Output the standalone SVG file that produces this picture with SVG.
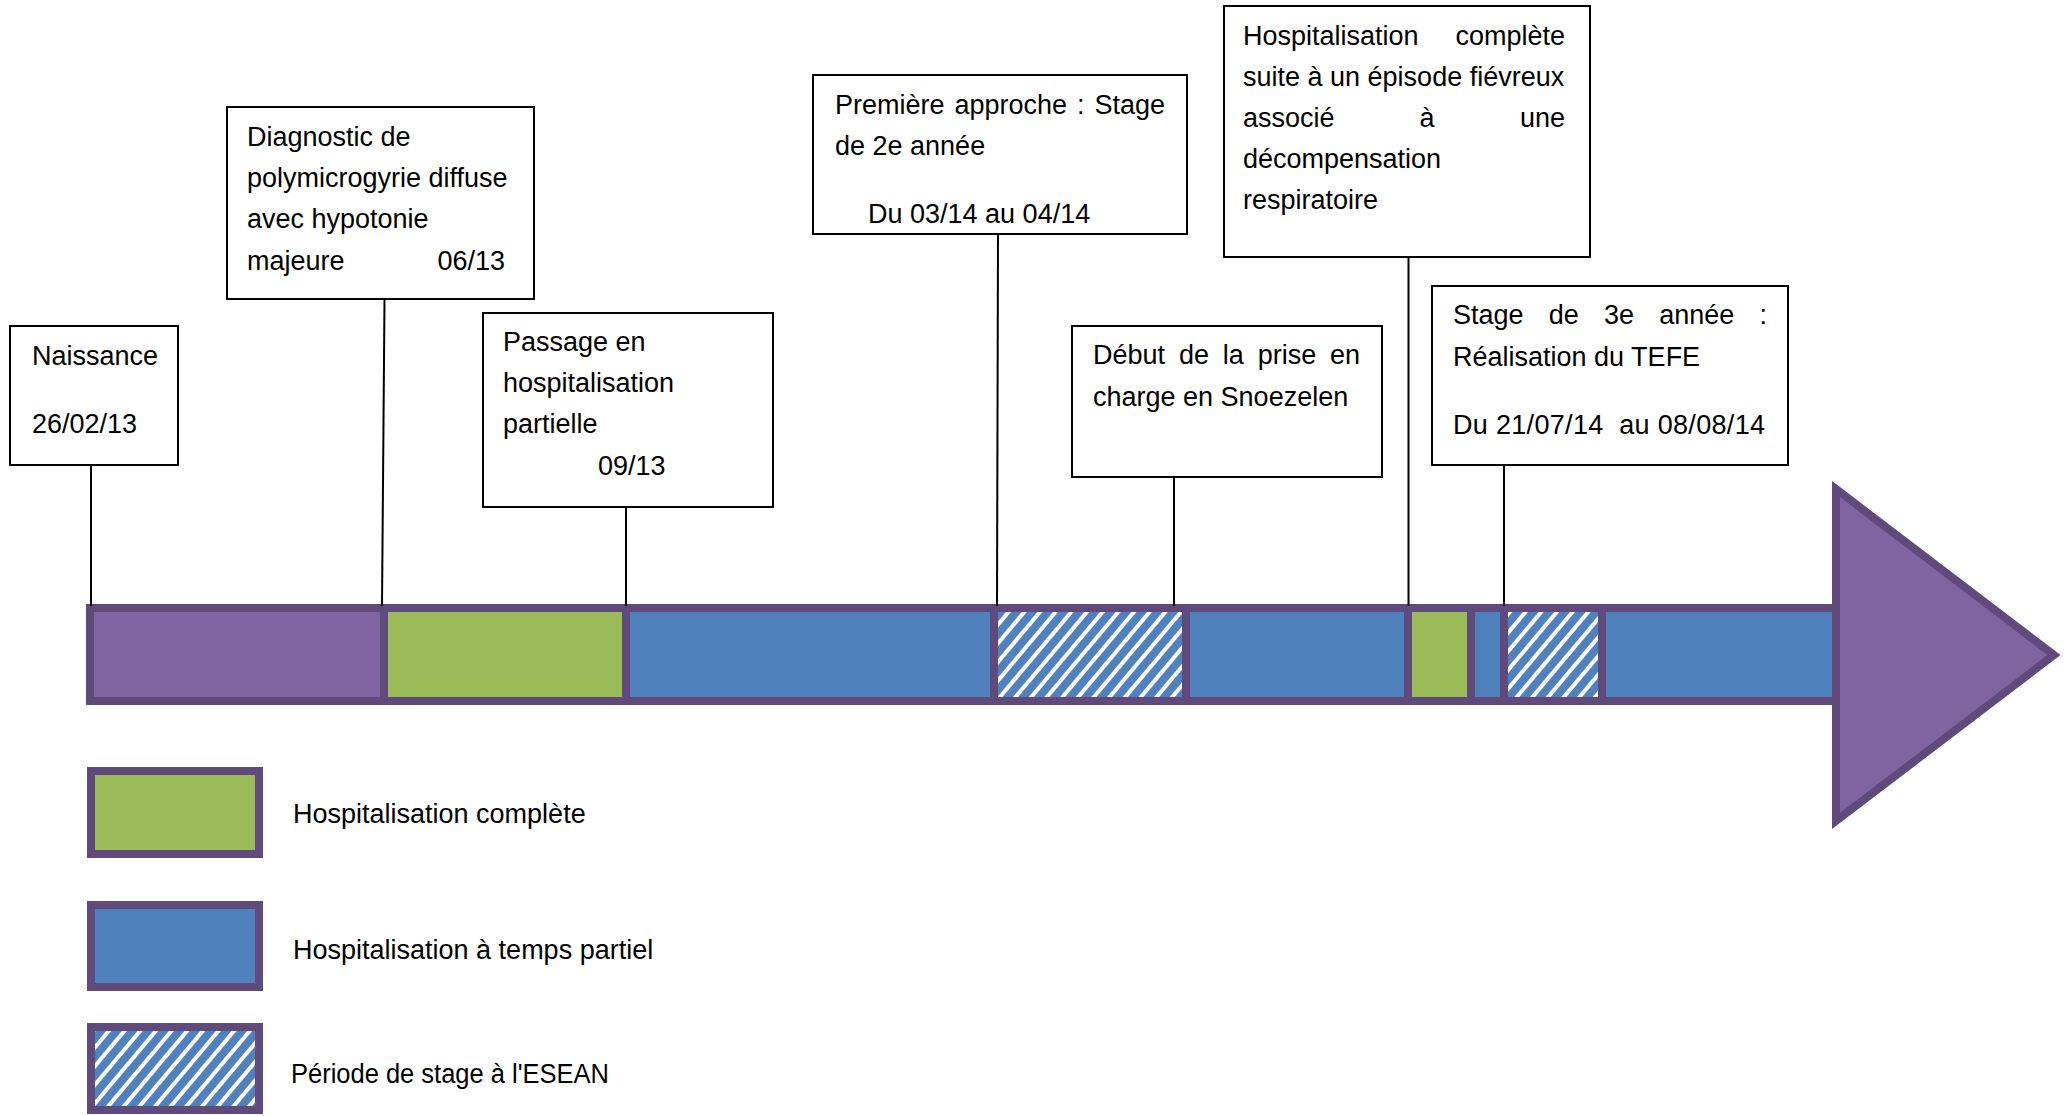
<svg xmlns="http://www.w3.org/2000/svg" width="2069" height="1116" viewBox="0 0 2069 1116">
<style>
.t{font-family:"Liberation Sans",Arial,sans-serif;font-size:27px;fill:#000}
.box{fill:#fff;stroke:#000;stroke-width:2}
.seg{stroke:#604A7B;stroke-width:8}
.p{fill:#8064A2}.g{fill:#9BBB59}.b{fill:#4F81BD}.h{fill:url(#hatch)}
.conn line{stroke:#000;stroke-width:2}
</style>
<defs>
<pattern id="hatch" width="12" height="12" patternUnits="userSpaceOnUse" patternTransform="rotate(40)">
<rect width="12" height="12" fill="#4F81BD"/>
<rect width="4" height="12" fill="#fff"/>
</pattern>
</defs>
<rect width="2069" height="1116" fill="#fff"/>

<g id="timeline-bar">
<rect class="seg p" x="90" y="608" width="294" height="93"/>
<rect class="seg g" x="384" y="608" width="242" height="93"/>
<rect class="seg b" x="626" y="608" width="368" height="93"/>
<rect class="seg h" x="994" y="608" width="192" height="93"/>
<rect class="seg b" x="1186" y="608" width="222" height="93"/>
<rect class="seg g" x="1408" y="608" width="63" height="93"/>
<rect class="seg b" x="1471" y="608" width="33" height="93"/>
<rect class="seg h" x="1504" y="608" width="98" height="93"/>
<rect class="seg b" x="1602" y="608" width="234" height="93"/>
<polygon class="seg p" points="1836,489 2054,655 1836,821"/>
</g>

<g id="connectors" class="conn">
<line x1="91" y1="465" x2="91" y2="606"/>
<line x1="384.5" y1="299" x2="382" y2="606"/>
<line x1="626" y1="507" x2="626" y2="606"/>
<line x1="998" y1="234" x2="997" y2="606"/>
<line x1="1174" y1="477" x2="1174" y2="606"/>
<line x1="1408.5" y1="257" x2="1408.5" y2="606"/>
<line x1="1504" y1="465" x2="1504" y2="606"/>
</g>

<g id="naissance">
<rect class="box" x="10" y="326" width="168" height="139"/>
<text class="t" x="32" y="365">Naissance</text>
<text class="t" x="32" y="433">26/02/13</text>
</g>

<g id="diagnostic">
<rect class="box" x="227" y="107" width="307" height="192"/>
<text class="t" x="247" y="146">Diagnostic de</text>
<text class="t" x="247" y="187">polymicrogyrie diffuse</text>
<text class="t" x="247" y="228">avec hypotonie</text>
<text class="t" x="247" y="270">majeure</text>
<text class="t" x="505" y="270" text-anchor="end">06/13</text>
</g>

<g id="passage">
<rect class="box" x="483" y="313" width="290" height="194"/>
<text class="t" x="503" y="351">Passage en</text>
<text class="t" x="503" y="392">hospitalisation</text>
<text class="t" x="503" y="433">partielle</text>
<text class="t" x="598" y="475">09/13</text>
</g>

<g id="premiere-approche">
<rect class="box" x="813" y="75" width="374" height="159"/>
<text class="t" y="114"><tspan x="835">Première</tspan><tspan x="954.4">approche</tspan><tspan x="1076.9">:</tspan></text>
<text class="t" x="1165" y="114" text-anchor="end">Stage</text>
<text class="t" x="835" y="155">de 2e année</text>
<text class="t" x="868" y="223">Du 03/14 au 04/14</text>
</g>

<g id="debut-snoezelen">
<rect class="box" x="1072" y="326" width="310" height="151"/>
<text class="t" y="364"><tspan x="1093">Début</tspan><tspan x="1178.9">de</tspan><tspan x="1222.8">la</tspan><tspan x="1257.7">prise</tspan></text>
<text class="t" x="1360" y="364" text-anchor="end">en</text>
<text class="t" x="1093" y="406">charge en Snoezelen</text>
</g>

<g id="hospitalisation-complete">
<rect class="box" x="1224" y="6" width="366" height="251"/>
<text class="t" x="1243" y="45">Hospitalisation</text>
<text class="t" x="1565" y="45" text-anchor="end">complète</text>
<text class="t" x="1243" y="86">suite à un épisode fiévreux</text>
<text class="t" x="1243" y="127">associé</text>
<text class="t" x="1427" y="127" text-anchor="middle">à</text>
<text class="t" x="1565" y="127" text-anchor="end">une</text>
<text class="t" x="1243" y="168">décompensation</text>
<text class="t" x="1243" y="209">respiratoire</text>
</g>

<g id="stage-3e-annee">
<rect class="box" x="1432" y="286" width="356" height="179"/>
<text class="t" y="324"><tspan x="1453">Stage</tspan><tspan x="1548.8">de</tspan><tspan x="1604">3e</tspan><tspan x="1659.2">année</tspan><tspan x="1759.5">:</tspan></text>
<text class="t" x="1453" y="366">Réalisation du TEFE</text>
<text class="t" x="1453" y="434" textLength="312" lengthAdjust="spacing">Du 21/07/14&#160; au 08/08/14</text>
</g>

<g id="legend-complete">
<rect class="seg g" x="91" y="771" width="168" height="83"/>
<text class="t" x="293" y="823">Hospitalisation complète</text>
</g>
<g id="legend-partiel">
<rect class="seg b" x="91" y="905" width="168" height="82"/>
<text class="t" x="293" y="959">Hospitalisation à temps partiel</text>
</g>
<g id="legend-stage">
<rect class="seg h" x="91" y="1027" width="168" height="83"/>
<text class="t" x="291" y="1083" textLength="318" lengthAdjust="spacingAndGlyphs">Période de stage à l'ESEAN</text>
</g>
</svg>
